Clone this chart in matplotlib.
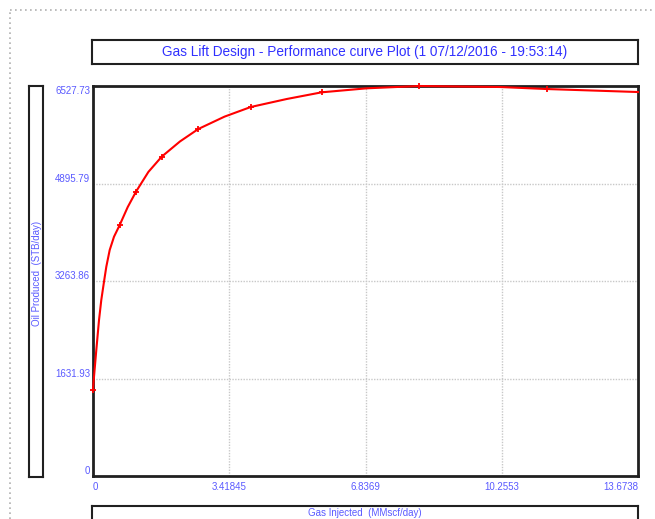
# -*- coding: utf-8 -*-

import matplotlib
matplotlib.use('Agg')
import matplotlib.pyplot as pyplot
import matplotlib.lines as lines

# 曲线数据
curve_gas = [0.0, 0.018, 0.083, 0.151, 0.208, 0.276, 0.334, 0.419, 0.527,
             0.670, 0.870, 1.079, 1.390, 1.724, 2.183, 2.642, 3.300, 3.957,
             4.860, 5.738, 6.867, 8.186, 10.21, 11.383, 13.6738]
curve_oil = [1440, 1607, 2109, 2611, 2946, 3252, 3503, 3783, 4005,
             4201, 4500, 4759, 5090, 5345, 5600, 5808, 6015, 6176,
             6310, 6422, 6489, 6527.73, 6511, 6477, 6427]

# 带标记的点
marker_gas = [0.0, 0.670, 1.079, 1.724, 2.642, 3.957, 5.738, 8.186, 11.383]
marker_oil = [1440, 4201, 4759, 5345, 5808, 6176, 6422, 6527.73, 6477]

x_ticks = [0, 3.41845, 6.8369, 10.2553, 13.6738]
x_tick_labels = ['0', '3.41845', '6.8369', '10.2553', '13.6738']
y_ticks = [0, 1631.93, 3263.86, 4895.79, 6527.73]
y_tick_labels = ['0', '1631.93', '3263.86', '4895.79', '6527.73']

title_text = 'Gas Lift Design - Performance curve Plot (1 07/12/2016 - 19:53:14)'
x_label = 'Gas Injected  (MMscf/day)'
y_label = 'Oil Produced  (STB/day)'

FONT = ['Liberation Sans Narrow', 'Liberation Sans', 'DejaVu Sans']
TITLE_BLUE = '#3030ff'
TICK_BLUE = '#5a5aff'


def boxed_axes(fig, rect, lw=1.5):
    axs = fig.add_axes(rect)
    axs.set_xticks([])
    axs.set_yticks([])
    for sp in axs.spines.values():
        sp.set_linewidth(lw)
        sp.set_color('#202020')
    return axs


fig = pyplot.figure(figsize=(6.55, 5.19), dpi=100)
W, H = 655.0, 519.0

# 外侧虚线边框
fig.add_artist(lines.Line2D([10 / W, 10 / W], [0, 1 - 10 / H],
                            transform=fig.transFigure,
                            color='#b0b0b0', lw=1.2, ls=(0, (1, 2))))
fig.add_artist(lines.Line2D([10 / W, 1], [1 - 10 / H, 1 - 10 / H],
                            transform=fig.transFigure,
                            color='#b0b0b0', lw=1.2, ls=(0, (1, 2))))

# 标题框
tbox = boxed_axes(fig, [92 / W, 1 - 64 / H, 546 / W, 24 / H])
tbox.text(0.5, 0.5, title_text, ha='center', va='center',
          color=TITLE_BLUE, fontsize=9.8, family=FONT,
          transform=tbox.transAxes)

# y 轴标签框
ybox = boxed_axes(fig, [29 / W, 1 - 477 / H, 14 / W, 391 / H])
ybox.text(0.55, 0.52, y_label, ha='center', va='center', rotation=90,
          color=TICK_BLUE, fontsize=7, family=FONT,
          transform=ybox.transAxes)

# x 轴标签框（下半部分超出画布）
xbox = boxed_axes(fig, [92 / W, 1 - 532 / H, 546 / W, 26 / H])
xbox.text(0.5, 0.72, x_label, ha='center', va='center',
          color=TICK_BLUE, fontsize=7, family=FONT,
          transform=xbox.transAxes)

# 主图
axs = fig.add_axes([93 / W, 1 - 476 / H, 545 / W, 390 / H])
axs.plot(curve_gas, curve_oil, color='#ff0000', lw=1.5, zorder=3,
         clip_on=False, solid_joinstyle='round')
axs.plot(marker_gas, marker_oil, ls='none', marker='+', ms=5, mew=1.3,
         color='#ff0000', zorder=4, clip_on=False)
axs.set_xlim(x_ticks[0], x_ticks[-1])
axs.set_ylim(y_ticks[0], y_ticks[-1])
axs.set_xticks([])
axs.set_yticks([])
for sp in axs.spines.values():
    sp.set_linewidth(2)
    sp.set_color('#202020')
    sp.set_zorder(2)

# 网格线
for xv in x_ticks[1:-1]:
    axs.axvline(xv, color='#c8c8c8', lw=1, ls=(0, (1, 1)), zorder=1)
for yv in y_ticks[1:-1]:
    axs.axhline(yv, color='#c8c8c8', lw=1, ls=(0, (1, 1)), zorder=1)

# 刻度标签
for i, (xv, lab) in enumerate(zip(x_ticks, x_tick_labels)):
    ha = 'center'
    if i == 0:
        ha = 'left'
    elif i == len(x_ticks) - 1:
        ha = 'right'
    axs.annotate(lab, xy=(xv, 0), xycoords=('data', 'axes fraction'),
                 xytext=(0, -4), textcoords='offset points',
                 ha=ha, va='top', color=TICK_BLUE, fontsize=7, family=FONT)
for i, (yv, lab) in enumerate(zip(y_ticks, y_tick_labels)):
    va = 'top' if i == len(y_ticks) - 1 else 'bottom'
    axs.annotate(lab, xy=(0, yv), xycoords=('axes fraction', 'data'),
                 xytext=(-2, 0), textcoords='offset points',
                 ha='right', va=va, color=TICK_BLUE, fontsize=7, family=FONT)

fig.savefig('out.png', dpi=100)
pyplot.close(fig)
